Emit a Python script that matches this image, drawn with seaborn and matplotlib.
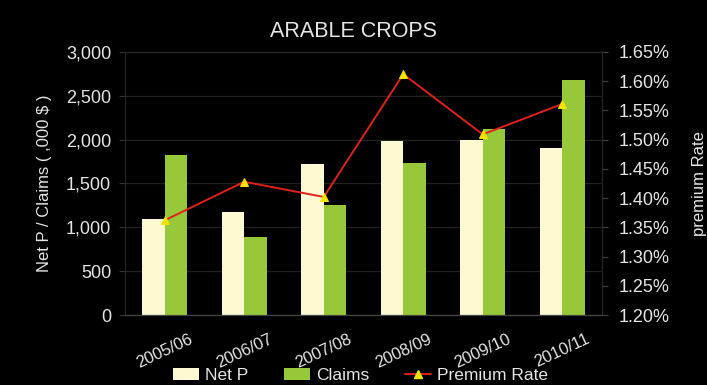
import numpy as np
import pandas as pd
import matplotlib
matplotlib.use("Agg")
import matplotlib.pyplot as plt
from matplotlib.patches import Patch
from matplotlib.lines import Line2D
from matplotlib.ticker import FuncFormatter, MultipleLocator, FixedLocator
import seaborn as sns

# ---- data -------------------------------------------------------------
seasons = ["2005/06", "2006/07", "2007/08", "2008/09", "2009/10", "2010/11"]
net_p = [1100, 1180, 1720, 1990, 1995, 1910]
claims = [1830, 890, 1250, 1730, 2120, 2675]
premium_rate = [1.362, 1.428, 1.402, 1.612, 1.509, 1.561]  # percent

series_names = ["Net P", "Claims"]
bar_colors = ["#FBF8D2", "#96C83A"]
line_color = "#E0211B"
marker_color = "#F2E400"
text_color = "#E6E6E6"
grid_color = "#222222"

df = pd.DataFrame({
    "season": seasons * 2,
    "series": [series_names[0]] * len(seasons) + [series_names[1]] * len(seasons),
    "value": net_p + claims,
})

# ---- style ------------------------------------------------------------
sns.set_style("dark")
plt.rcParams["font.family"] = ["Liberation Sans", "DejaVu Sans"]
plt.rcParams["text.color"] = text_color
plt.rcParams["axes.labelcolor"] = text_color
plt.rcParams["xtick.color"] = text_color
plt.rcParams["ytick.color"] = text_color

fig = plt.figure(figsize=(7.07, 3.85), dpi=100, facecolor="black")
ax = fig.add_axes([0.1768, 0.1818, 0.6747, 0.6832])
ax.set_facecolor("black")

sns.barplot(data=df, x="season", y="value", hue="series",
            palette=bar_colors, hue_order=series_names, order=seasons,
            width=0.57, gap=0, linewidth=0, saturation=1,
            legend=False, ax=ax)

ax.set_ylim(0, 3000)
ax.set_xlim(-0.5, len(seasons) - 0.5)
ax.yaxis.set_major_locator(MultipleLocator(500))
ax.yaxis.set_major_formatter(FuncFormatter(lambda v, p: f"{int(v):,}"))
ax.grid(axis="y", color=grid_color, linewidth=0.9, linestyle="-")
ax.grid(axis="x", visible=False)
ax.set_axisbelow(True)
ax.set_xlabel("")
ax.set_ylabel("Net P / Claims ( ,000 $ )", fontsize=12, labelpad=10)

ax.tick_params(axis="y", labelsize=13, length=4, color="#333333", pad=6)
ax.tick_params(axis="x", which="major", labelsize=12, length=0, pad=12)
ax.xaxis.set_minor_locator(FixedLocator(np.arange(-0.5, len(seasons), 1.0)))
ax.tick_params(axis="x", which="minor", length=4, color="#3A3A3A")
for lbl in ax.get_xticklabels():
    lbl.set_rotation(25)
    lbl.set_ha("center")

for side in ["left", "right", "top", "bottom"]:
    ax.spines[side].set_visible(True)
    ax.spines[side].set_color("#262626")
    ax.spines[side].set_linewidth(0.9)
ax.spines["bottom"].set_color("#444444")

# ---- premium rate on secondary axis ------------------------------------
ax2 = ax.twinx()
sns.lineplot(x=np.arange(len(seasons)), y=premium_rate, ax=ax2,
             color=line_color, linewidth=1.4, marker="^", markersize=6,
             markerfacecolor=marker_color, markeredgecolor=marker_color)
ax2.set_ylim(1.20, 1.65)
ax2.yaxis.set_major_locator(MultipleLocator(0.05))
ax2.yaxis.set_major_formatter(FuncFormatter(lambda v, p: f"{v:.2f}%"))
ax2.set_ylabel("premium Rate", fontsize=12, labelpad=16)
ax2.tick_params(axis="y", labelsize=13, length=4, color="#444444", pad=8)
ax2.grid(False)
for side in ["left", "right", "top", "bottom"]:
    ax2.spines[side].set_visible(False)

fig.suptitle("ARABLE CROPS", fontsize=15.5, color=text_color, y=0.945)

# ---- legend -----------------------------------------------------------
handles = [
    Patch(facecolor=bar_colors[0], edgecolor="none", label=series_names[0]),
    Patch(facecolor=bar_colors[1], edgecolor="none", label=series_names[1]),
    Line2D([], [], color=line_color, linewidth=1.4, marker="^", markersize=6,
           markerfacecolor=marker_color, markeredgecolor=marker_color,
           label="Premium Rate"),
]
leg = fig.legend(handles=handles, loc="center", bbox_to_anchor=(0.51, 0.025),
                 ncol=3, frameon=False, fontsize=12.5, handlelength=1.45,
                 handleheight=0.65, handletextpad=0.35, columnspacing=2.1,
                 labelcolor=text_color)

fig.savefig("out.png", dpi=100, facecolor="black")
